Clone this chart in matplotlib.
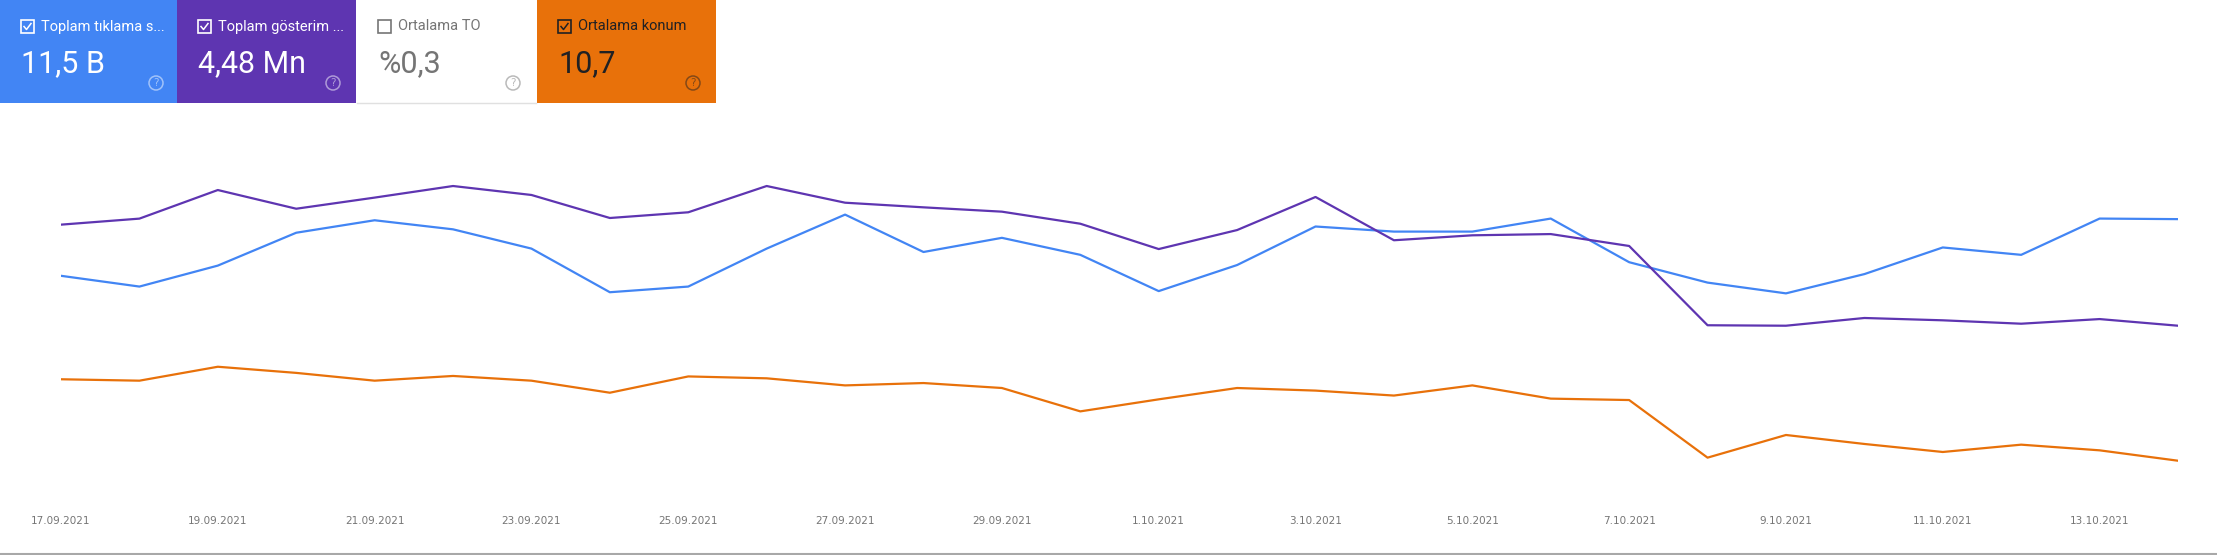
import matplotlib
matplotlib.use("Agg")
import matplotlib.pyplot as plt
import pandas as pd
from matplotlib.patches import Rectangle, Ellipse
from matplotlib.lines import Line2D

W, H = 2217, 555

dates = pd.date_range("2021-09-17", "2021-10-14", freq="D")

clicks = [378, 359, 396, 454, 476, 460, 426, 349, 359, 426,
          486, 420, 445, 415, 351, 397, 465, 456, 456, 479,
          402, 366, 347, 381, 428, 415, 479, 478]
impressions = [171700, 175600, 194100, 182000, 189200, 196700, 190900, 176000, 179700, 196700,
               185900, 182900, 180100, 172300, 155900, 168200, 189600, 161600, 164800, 165600,
               157900, 106600, 106300, 111300, 109800, 107600, 110600, 106300]
position = [9.71, 9.77, 9.18, 9.44, 9.77, 9.57, 9.77, 10.28, 9.59, 9.67,
            9.97, 9.87, 10.08, 11.07, 10.56, 10.08, 10.19, 10.40, 9.97, 10.53,
            10.59, 13.03, 12.07, 12.45, 12.79, 12.48, 12.72, 13.16]

card_titles = ["Toplam tıklama s...", "Toplam gösterim ...", "Ortalama TO", "Ortalama konum"]
card_values = ["11,5 B", "4,48 Mn", "%0,3", "10,7"]
card_checked = [True, True, False, True]

BLUE = "#4285f4"
PURPLE = "#5e35b1"
ORANGE = "#e8710a"

card_bg = [BLUE, PURPLE, "white", ORANGE]
card_fg = ["white", "white", "#757575", "#202124"]
card_x = [0, 177, 357, 537]
card_w = 179

plt.rcParams['font.family'] = ['Roboto', 'DejaVu Sans']

fig = plt.figure(figsize=(W / 100, H / 100), dpi=100)


def fx(x):
    return x / W


def fy(y):
    return 1 - y / H


# metric cards
for i in range(4):
    x0 = card_x[i]
    fig.add_artist(Rectangle((fx(x0), fy(103)), card_w / W, 103 / H,
                             transform=fig.transFigure, facecolor=card_bg[i], edgecolor="none"))
    fg = card_fg[i]
    # checkbox
    fig.add_artist(Rectangle((fx(x0 + 21), fy(33)), 13 / W, 13 / H, transform=fig.transFigure,
                             facecolor="none", edgecolor=fg, linewidth=1.2))
    if card_checked[i]:
        fig.add_artist(Line2D([fx(x0 + 24), fx(x0 + 26.5), fx(x0 + 31)],
                              [fy(26.5), fy(29.5), fy(23.5)],
                              transform=fig.transFigure, color=fg, linewidth=1.1))
    fig.text(fx(x0 + 41), fy(26.5), card_titles[i], color=fg, fontsize=10.5,
             va="center", ha="left")
    fig.text(fx(x0 + 21), fy(72), card_values[i], color=fg, fontsize=22,
             va="baseline", ha="left")
    # help icon
    fig.add_artist(Ellipse((fx(x0 + 156), fy(83)), 14 / W, 14 / H, transform=fig.transFigure,
                           facecolor="none", edgecolor=fg, alpha=0.5, linewidth=1.1))
    fig.text(fx(x0 + 156), fy(83), "?", color=fg, alpha=0.5, fontsize=7.5,
             ha="center", va="center", family=["DejaVu Sans"])

# bottom border of the white card
fig.add_artist(Line2D([fx(357), fx(536)], [fy(102.5), fy(102.5)],
                      transform=fig.transFigure, color="#e0e0e0", linewidth=1))

# chart
ax = fig.add_axes([fx(61), fy(490), (2178 - 61) / W, 340 / H])
ax2 = ax.twinx()
ax3 = ax.twinx()

x = list(range(len(dates)))
ax.plot(x, clicks, color=BLUE, linewidth=1.6)
ax2.plot(x, impressions, color=PURPLE, linewidth=1.6)
ax3.plot(x, position, color=ORANGE, linewidth=1.6)

ax.set_ylim(0, 600)
ax2.set_ylim(0, 220000)
ax3.set_ylim(14.4, 0)
ax.set_xlim(0, len(dates) - 1)

labels = [f"{d.day}.{d.month:02d}.{d.year}" for d in dates]
ax.set_xticks(x[::2])
ax.set_xticklabels(labels[::2], fontsize=7.5, color="#757575", family=["DejaVu Sans"])
ax.tick_params(axis="x", length=0, pad=19)

for a in (ax, ax2, ax3):
    for s in a.spines.values():
        s.set_visible(False)
    a.set_yticks([])
    a.patch.set_visible(False)

# bottom separator
fig.add_artist(Line2D([0, 1], [fy(554), fy(554)], transform=fig.transFigure,
                      color="#a8a8a8", linewidth=1.5))

fig.savefig("out.png", dpi=100)
